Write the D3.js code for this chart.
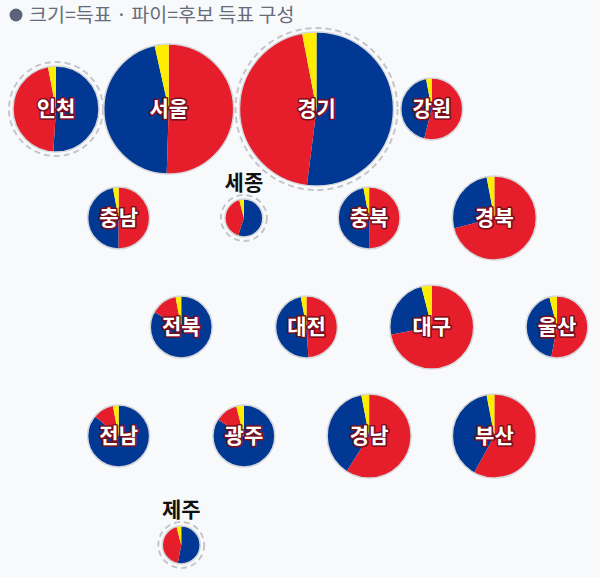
<!DOCTYPE html><html><head><meta charset="utf-8">
<script src="https://cdn.jsdelivr.net/npm/d3@7"></script>
<style>body{margin:0;background:#f8f9fb} text{font-family:"Noto Sans CJK KR","Noto Sans",sans-serif}</style></head><body><svg id="c" width="600" height="577"></svg>
<script>
const regions=["인천","서울","경기","강원","충남","세종","충북","경북","전북","대전","대구","울산","전남","광주","경남","부산","제주"];
const cols=[0,1.8,4.16,6,1,3,5,7,2,4,6,8,1,3,5,7,2];
const rows=[0,0,0,0,1,1,1,1,2,2,2,2,3,3,3,3,4];
const votes=[2.53,5.77,8.1,1.31,1.31,0.49,1.31,2.41,1.31,1.31,2.41,1.31,1.31,1.31,2.41,2.41,0.49];
const blue=[51,46,52,43,47,55,47,26,83,48,24,43,86,84,38,39,53];
const red=[46,50.5,45,54,50,41,50,71,14,49,72,53,11,12,59,58,43];
const yellow=[3,3.5,3,3,3,4,3,3,3,3,4,4,3,4,3,3,4];
const ringed=["인천","경기","세종","제주"];
const outside=["세종","제주"];
const colors={blue:"#003893",red:"#e61e2b",yellow:"#ffed00"};
const svg=d3.select("#c");
const x=d3.scaleLinear().domain([0,8]).range([56,557]);
const y=d3.scaleLinear().domain([0,4]).range([109,545]);
const r=d3.scaleSqrt().domain([0,8.1]).range([0,77]);
const pie=d3.pie().value(d=>d.v);
svg.append("circle").attr("cx",16).attr("cy",15).attr("r",6.5).attr("fill","#5b6378");
svg.append("text").attr("x",29).attr("y",22).style("font-size","19.5px").attr("fill","#666c7a").text("크기=득표 · 파이=후보 득표 구성");
regions.forEach((name,i)=>{
  const cx=x(cols[i]),cy=y(rows[i]),rr=r(votes[i]);
  const g=svg.append("g").attr("transform",`translate(${cx},${cy})`);
  if(ringed.includes(name)) g.append("circle").attr("r",rr+4).attr("fill","none").attr("stroke","#c4c6cb").attr("stroke-width",2).attr("stroke-dasharray","6,4");
  const arcs=pie([{k:"blue",v:blue[i]},{k:"red",v:red[i]},{k:"yellow",v:yellow[i]}]);
  const arc=d3.arc().innerRadius(0).outerRadius(rr);
  g.selectAll("path").data(arcs).join("path").attr("d",arc).attr("fill",d=>colors[d.data.k]);
  g.append("circle").attr("r",rr).attr("fill","none").attr("stroke","#d5d6da").attr("stroke-width",1.5);
  const t=g.append("text").attr("text-anchor","middle").style("font-weight","bold").style("font-size","21px");
  if(outside.includes(name)){
    t.attr("y",-rr-9).attr("fill","#111").text(name);
  } else {
    t.attr("y",7).attr("fill","#fff").attr("stroke","#7a0d1a").attr("stroke-width",3).attr("paint-order","stroke").attr("stroke-linejoin","round").text(name);
  }
});
</script></body></html>
